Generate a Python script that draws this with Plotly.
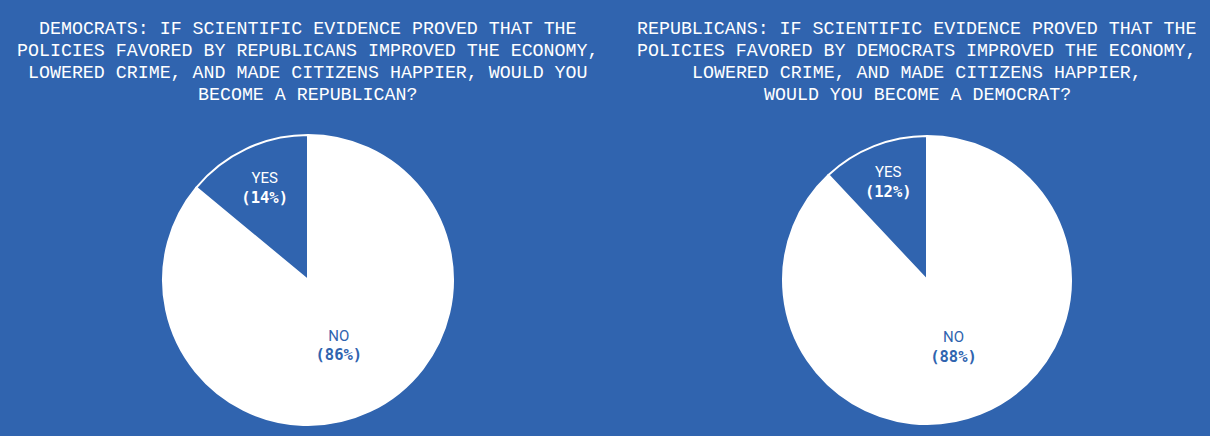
import plotly.graph_objects as go

answers = ['NO', 'YES']
democrats = [86, 14]
republicans = [88, 12]

titles = [
    ['DEMOCRATS: IF SCIENTIFIC EVIDENCE PROVED THAT THE',
     'POLICIES FAVORED BY REPUBLICANS IMPROVED THE ECONOMY,',
     'LOWERED CRIME, AND MADE CITIZENS HAPPIER, WOULD YOU',
     'BECOME A REPUBLICAN?'],
    ['REPUBLICANS: IF SCIENTIFIC EVIDENCE PROVED THAT THE',
     'POLICIES FAVORED BY DEMOCRATS IMPROVED THE ECONOMY,',
     'LOWERED CRIME, AND MADE CITIZENS HAPPIER,',
     'WOULD YOU BECOME A DEMOCRAT?'],
]

bg = '#3064af'
W, H = 1210, 436

fig = go.Figure()
domains = [[163 / W, 453 / W], [783 / W, 1071 / W]]
for vals, dom in zip([democrats, republicans], domains):
    fig.add_trace(go.Pie(
        labels=answers, values=vals, sort=False,
        direction='clockwise', rotation=0,
        domain=dict(x=dom, y=[11 / H, 301 / H]),
        marker=dict(colors=['white', bg], line=dict(color='white', width=2)),
        texttemplate="%{label}<br><span style='font-family:DejaVu Sans Mono;font-size:15.5px'><b>(%{value}%)</b></span>",
        textposition='inside', insidetextorientation='horizontal',
        textfont=dict(family='Roboto, sans-serif', size=15, color=[bg, 'white']),
        showlegend=False, hoverinfo='label+percent',
    ))

# title lines placed one by one for tighter line spacing
for lines, cx in zip(titles, [308, 917]):
    for i, line in enumerate(lines):
        fig.add_annotation(
            text=line, x=cx / W, y=1 - (29 + 22 * i) / H, xref='paper', yref='paper',
            xanchor='center', yanchor='middle', showarrow=False,
            font=dict(family='Liberation Mono, DejaVu Sans Mono, monospace', size=18.3, color='white'),
        )

fig.update_layout(
    width=W, height=H,
    paper_bgcolor=bg, plot_bgcolor=bg,
    margin=dict(l=0, r=0, t=0, b=0),
)
fig.write_html('out.html', config={'displayModeBar': False},
               post_script="document.body.style.margin='0';document.body.style.overflow='hidden';")
